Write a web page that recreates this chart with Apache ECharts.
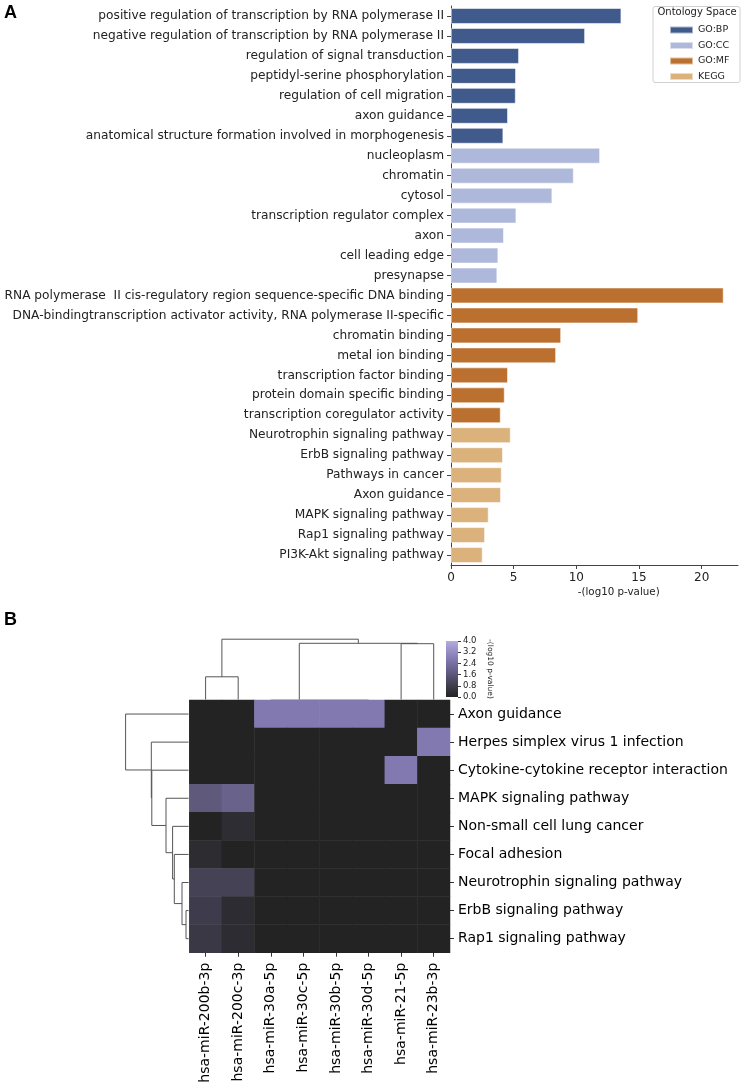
<!DOCTYPE html>
<html><head><meta charset="utf-8">
<script src="https://cdn.jsdelivr.net/npm/echarts@6/dist/echarts.min.js"></script>
<style>html,body{margin:0;padding:0;background:#fff}#c{width:745px;height:1087px}</style>
</head><body><div id="c"></div>
<script>
// ---------- Panel A data ----------
const bpTerms = ['positive regulation of transcription by RNA polymerase II','negative regulation of transcription by RNA polymerase II','regulation of signal transduction','peptidyl-serine phosphorylation','regulation of cell migration','axon guidance','anatomical structure formation involved in morphogenesis'];
const bpVals = [13.6, 10.7, 5.43, 5.19, 5.17, 4.55, 4.18];
const ccTerms = ['nucleoplasm','chromatin','cytosol','transcription regulator complex','axon','cell leading edge','presynapse'];
const ccVals = [11.9, 9.8, 8.09, 5.22, 4.23, 3.78, 3.70];
const mfTerms = ['RNA polymerase  II cis-regulatory region sequence-specific DNA binding','DNA-bindingtranscription activator activity, RNA polymerase II-specific','chromatin binding','metal ion binding','transcription factor binding','protein domain specific binding','transcription coregulator activity'];
const mfVals = [21.76, 14.94, 8.79, 8.39, 4.55, 4.29, 3.97];
const keggTerms = ['Neurotrophin signaling pathway','ErbB signaling pathway','Pathways in cancer','Axon guidance','MAPK signaling pathway','Rap1 signaling pathway','PI3K-Akt signaling pathway'];
const keggVals = [4.77, 4.15, 4.05, 3.99, 3.01, 2.72, 2.53];
const groupNames = ['GO:BP','GO:CC','GO:MF','KEGG'];
const groupColors = ['#415a8c','#aeb8da','#bb7030','#dcb27c'];
const xTicksA = [0, 5, 10, 15, 20];

// ---------- Panel B data ----------
const hmRows = ['Axon guidance','Herpes simplex virus 1 infection','Cytokine-cytokine receptor interaction','MAPK signaling pathway','Non-small cell lung cancer','Focal adhesion','Neurotrophin signaling pathway','ErbB signaling pathway','Rap1 signaling pathway'];
const hmCols = ['hsa-miR-200b-3p','hsa-miR-200c-3p','hsa-miR-30a-5p','hsa-miR-30c-5p','hsa-miR-30b-5p','hsa-miR-30d-5p','hsa-miR-21-5p','hsa-miR-23b-3p'];
const hmValues = [
  [0, 0, 2.7, 2.7, 2.7, 2.7, 0, 0],
  [0, 0, 0, 0, 0, 0, 0, 2.7],
  [0, 0, 0, 0, 0, 0, 2.7, 0],
  [1.7, 2.0, 0, 0, 0, 0, 0, 0],
  [0, 0.3, 0, 0, 0, 0, 0, 0],
  [0.27, 0, 0, 0, 0, 0, 0, 0],
  [0.97, 0.97, 0, 0, 0, 0, 0, 0],
  [0.78, 0.28, 0, 0, 0, 0, 0, 0],
  [0.67, 0.28, 0, 0, 0, 0, 0, 0]
];
// linkage: [childA, childB, height]; ids >= n refer to earlier merges
const colMerges = [[4,5,0],[3,8,0],[2,9,0],[0,1,2.27],[6,7,5.58],[10,12,5.62],[11,13,6.03]];
const rowMerges = [[7,8,0.26],[6,9,0.66],[5,10,1.43],[4,11,1.6],[3,12,2.26],[2,13,3.68],[1,14,3.73],[0,15,6.3]];
const cbStops = [[0,'#232323'],[2.7,'#8279b0'],[4,'#b3acdf']];
const cbMax = 4;

// ---------- helpers ----------
function hex2rgb(h){return [parseInt(h.slice(1,3),16),parseInt(h.slice(3,5),16),parseInt(h.slice(5,7),16)];}
function cmap(v){
  for(let i=0;i<cbStops.length-1;i++){
    const [v0,c0]=cbStops[i],[v1,c1]=cbStops[i+1];
    if(v<=v1||i===cbStops.length-2){
      const t=Math.max(0,Math.min(1,(v-v0)/(v1-v0)));
      const a=hex2rgb(c0),b=hex2rgb(c1);
      return 'rgb('+a.map((x,j)=>Math.round(x+(b[j]-x)*t)).join(',')+')';
    }
  }
}
function dendro(merges,n){
  const pos=[],ht=[],paths=[];
  for(let i=0;i<n;i++){pos[i]=i+0.5;ht[i]=0;}
  merges.forEach((m,k)=>{
    const [a,b,h]=m;
    paths.push({h:h,pts:[[pos[a],ht[a]],[pos[a],h],[pos[b],h],[pos[b],ht[b]]]});
    pos[n+k]=(pos[a]+pos[b])/2; ht[n+k]=h;
  });
  return paths;
}

const categories = bpTerms.concat(ccTerms, mfTerms, keggTerms);
const groups = [bpVals, ccVals, mfVals, keggVals];
let offset = 0;
const barSeries = groups.map((vals,g)=>{
  const data = categories.map(()=>'-');
  vals.forEach((v,i)=>{data[offset+i]=v;});
  offset += vals.length;
  return {type:'bar', name:groupNames[g], stack:'a', xAxisIndex:0, yAxisIndex:0, data:data,
    barCategoryGap:'20%', itemStyle:{color:groupColors[g], borderColor:'rgba(255,255,255,0.55)', borderWidth:1}};
});

const hmData = [];
hmValues.forEach((row,r)=>row.forEach((v,c)=>hmData.push([c,r,v])));

const colPaths = dendro(colMerges, hmCols.length).map(p=>({coords:p.pts, lineStyle:{color:p.h===0?'#b8b8b8':'#555'}}));
const rowPaths = dendro(rowMerges, hmRows.length).map(p=>({coords:p.pts.map(q=>[q[1],q[0]]), lineStyle:{color:'#555'}}));

const inRangeColors = [];
for(let i=0;i<=40;i++) inRangeColors.push(cmap(cbMax*i/40));
const gradStops = [];
for(let i=0;i<=40;i++) gradStops.push({offset:i/40, color:cmap(cbMax*(1-i/40))});

const FF = 'DejaVu Sans';
const hmLeft = 189.3, hmTop = 700, hmW = 260.7, hmH = 252.7;

const option = {
  animation:false,
  textStyle:{fontFamily:FF},
  legend:{
    data:groupNames, orient:'vertical', left:664, top:19.5, itemWidth:23, itemHeight:7, itemGap:4.5,
    icon:'rect', textStyle:{fontSize:9.5, color:'#222', fontFamily:FF, lineHeight:11}, selectedMode:false
  },
  graphic:[
    {type:'rect', z:-1, shape:{x:653, y:6.5, width:87, height:76, r:2}, style:{fill:'#fff', stroke:'#d0d0d0', lineWidth:1}},
    {type:'text', x:697, y:12.5, style:{text:'Ontology Space', fill:'#222', font:'10px "DejaVu Sans"', textAlign:'center', textVerticalAlign:'middle'}},
    {type:'text', x:618.7, y:592.5, style:{text:'-(log10 p-value)', fill:'#222', font:'10.3px "DejaVu Sans"', textAlign:'center', textVerticalAlign:'middle'}},
    {type:'text', x:4, y:4, style:{text:'A', fill:'#000', font:'bold 18px "Liberation Sans"'}},
    {type:'text', x:4, y:611, style:{text:'B', fill:'#000', font:'bold 18px "Liberation Sans"'}}
  ],
  visualMap:{show:false, seriesIndex:4, min:0, max:cbMax, inRange:{color:inRangeColors}, calculable:false},
  grid:[
    {left:451, top:6, width:287, height:559},
    {left:hmLeft, top:hmTop, width:hmW, height:hmH},
    {left:hmLeft, top:634.5, width:hmW, height:65},
    {left:118.3, top:hmTop, width:70.3, height:hmH},
    {left:446, top:641, width:12, height:56}
  ],
  xAxis:[
    {gridIndex:0, type:'value', min:0, max:22.9, splitLine:{show:false},
      axisLine:{show:true, lineStyle:{color:'#444'}},
      axisTick:{show:true, length:4, lineStyle:{color:'#444'}, customValues:xTicksA},
      axisLabel:{fontSize:12, color:'#222', margin:7, customValues:xTicksA}},
    {gridIndex:1, type:'category', data:hmCols, position:'bottom', axisLine:{show:false},
      axisTick:{show:true, length:4, alignWithLabel:true, lineStyle:{color:'#333'}},
      axisLabel:{rotate:90, fontSize:14, color:'#000', margin:10, interval:0}, splitLine:{show:false}},
    {gridIndex:2, type:'value', min:0, max:hmCols.length, show:false},
    {gridIndex:3, type:'value', min:0, max:7.03, inverse:true, show:false},
    {gridIndex:4, type:'category', data:['cb'], show:false}
  ],
  yAxis:[
    {gridIndex:0, type:'category', data:categories, inverse:true,
      axisLine:{show:true, lineStyle:{color:'#444'}}, axisTick:{show:true, length:4, alignWithLabel:true, lineStyle:{color:'#444'}},
      axisLabel:{fontSize:12.2, color:'#222', margin:7, interval:0}},
    {gridIndex:1, type:'category', data:hmRows, inverse:true, position:'right', axisLine:{show:false},
      axisTick:{show:true, length:4, alignWithLabel:true, lineStyle:{color:'#333'}},
      axisLabel:{fontSize:14, color:'#000', margin:8, interval:0}},
    {gridIndex:2, type:'value', min:0, max:6.5, show:false},
    {gridIndex:3, type:'value', min:0, max:hmRows.length, inverse:true, show:false},
    {gridIndex:4, type:'value', min:0, max:cbMax, interval:0.8, position:'right', splitLine:{show:false},
      axisLine:{show:false}, axisTick:{show:true, length:3, lineStyle:{color:'#333'}},
      axisLabel:{fontSize:8.5, color:'#222', margin:5, formatter:v=>v.toFixed(1)},
      name:'-(log10 p-value)', nameLocation:'middle', nameRotate:-90, nameGap:28,
      nameTextStyle:{fontSize:7.5, color:'#222'}}
  ],
  series: barSeries.concat([
    {type:'heatmap', xAxisIndex:1, yAxisIndex:1, data:hmData, itemStyle:{borderWidth:0}, emphasis:{disabled:true}},
    {type:'lines', coordinateSystem:'cartesian2d', xAxisIndex:2, yAxisIndex:2, polyline:true, data:colPaths,
      lineStyle:{width:1, opacity:1, color:'#555'}, silent:true, z:3},
    {type:'lines', coordinateSystem:'cartesian2d', xAxisIndex:3, yAxisIndex:3, polyline:true, data:rowPaths,
      lineStyle:{width:1, opacity:1, color:'#555'}, silent:true, z:3},
    {type:'bar', xAxisIndex:4, yAxisIndex:4, data:[cbMax], barWidth:'100%', silent:true,
      itemStyle:{color:{type:'linear', x:0, y:0, x2:0, y2:1, colorStops:gradStops}}}
  ])
};
const chart = echarts.init(document.getElementById('c'), null, {renderer:'canvas'});
chart.setOption(option);
</script></body></html>
